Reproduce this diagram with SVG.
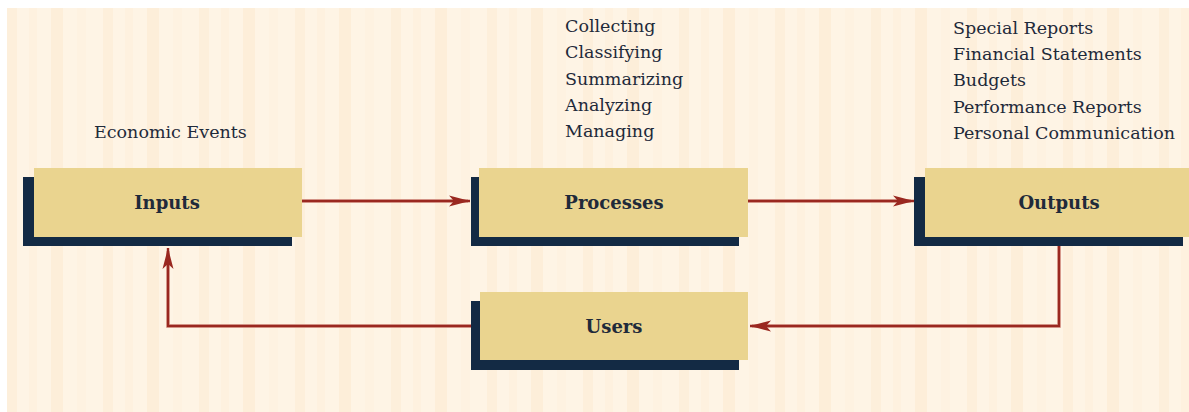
<svg xmlns="http://www.w3.org/2000/svg" width="1189" height="412" viewBox="0 0 1189 412">
  <defs>
    <pattern id="stripes" x="7" y="0" width="96" height="412" patternUnits="userSpaceOnUse">
      <rect width="96" height="412" fill="#fef4e5"/>
      <rect x="0" width="10" height="412" fill="#fdefdb"/>
      <rect x="22" width="8" height="412" fill="#fef1df"/>
      <rect x="44" width="12" height="412" fill="#fdeed9"/>
      <rect x="70" width="9" height="412" fill="#fef2e1"/>
    </pattern>
    <marker id="arrow" viewBox="0 0 22 12" refX="21" refY="6" markerWidth="22" markerHeight="12" markerUnits="userSpaceOnUse" orient="auto">
      <path d="M0,0.5 L21,6 L0,11.5 L5,6 Z" fill="#9a2820"/>
    </marker>
    <style>
      .shadow { fill: #132a44; }
      .box { fill: #ead48f; }
      .title { font-family: "DejaVu Serif", "Liberation Serif", serif; font-weight: bold; font-size: 18px; fill: #1f2a3a; text-anchor: middle; }
      .note { font-family: "DejaVu Serif", "Liberation Serif", serif; font-size: 17.5px; fill: #1f2a3a; }
      .link { fill: none; stroke: #9a2820; stroke-width: 2.4; }
      .halo { fill: none; stroke: #e6b7a8; stroke-width: 4; }
    </style>
  </defs>

  <!-- page background -->
  <rect x="0" y="0" width="1189" height="412" fill="#ffffff"/>
  <rect x="7" y="8" width="1182" height="404" fill="url(#stripes)"/>

  <!-- annotation text -->
  <g id="labels">
    <text class="note" x="94" y="138">Economic Events</text>
    <text class="note" x="565" y="32">Collecting</text>
    <text class="note" x="565" y="58">Classifying</text>
    <text class="note" x="565" y="85">Summarizing</text>
    <text class="note" x="565" y="111">Analyzing</text>
    <text class="note" x="565" y="137">Managing</text>
    <text class="note" x="953" y="34">Special Reports</text>
    <text class="note" x="953" y="60">Financial Statements</text>
    <text class="note" x="953" y="86">Budgets</text>
    <text class="note" x="953" y="113">Performance Reports</text>
    <text class="note" x="953" y="139">Personal Communication</text>
  </g>

  <!-- connectors -->
  <g id="connectors">
    <path class="halo" d="M302,201 H468 M748,201 H911 M1059,246 V326 H752 M480,326 H168 V251"/>
    <path class="link" d="M302,201 H470" marker-end="url(#arrow)"/>
    <path class="link" d="M748,201 H914" marker-end="url(#arrow)"/>
    <path class="link" d="M1059,246 V326 H750" marker-end="url(#arrow)"/>
    <path class="link" d="M480,326 H168 V248" marker-end="url(#arrow)"/>
  </g>

  <g id="inputs">
    <rect class="shadow" x="23" y="177" width="269" height="69"/>
    <rect class="box" x="34" y="168" width="268" height="69"/>
    <text class="title" x="167" y="209">Inputs</text>
  </g>

  <g id="processes">
    <rect class="shadow" x="471" y="177" width="268" height="69"/>
    <rect class="box" x="479" y="168" width="269" height="69"/>
    <text class="title" x="614" y="209">Processes</text>
  </g>

  <g id="outputs">
    <rect class="shadow" x="914" y="177" width="269" height="69"/>
    <rect class="box" x="925" y="168" width="268" height="69"/>
    <text class="title" x="1059" y="209">Outputs</text>
  </g>

  <g id="users">
    <rect class="shadow" x="471" y="301" width="268" height="69"/>
    <rect class="box" x="480" y="292" width="268" height="68"/>
    <text class="title" x="614" y="333">Users</text>
  </g>
</svg>
